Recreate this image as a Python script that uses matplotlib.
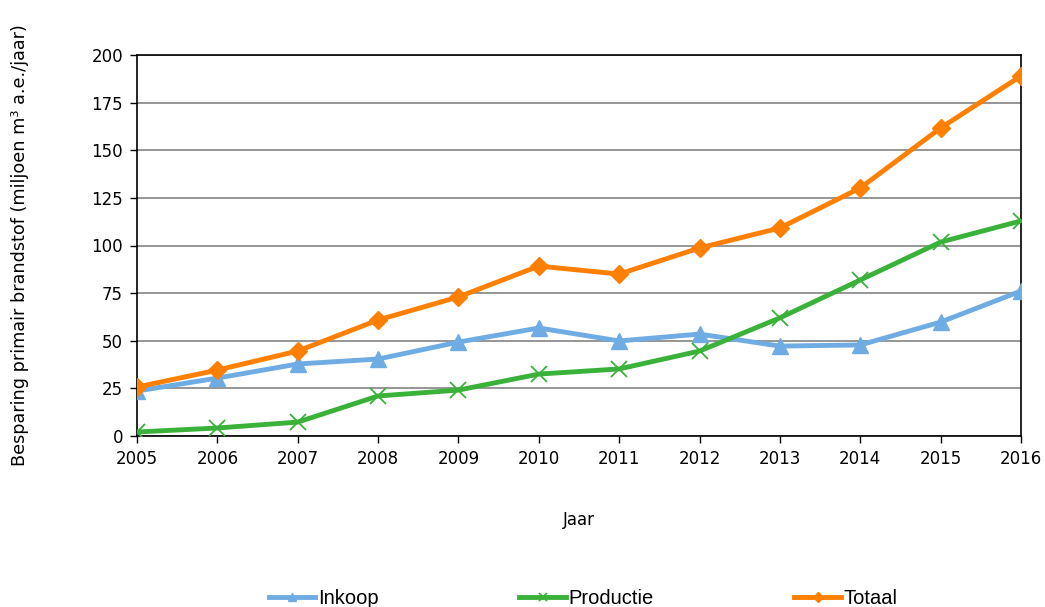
import numpy as np
import matplotlib.pyplot as plt

years = [2005, 2006, 2007, 2008, 2009, 2010, 2011, 2012, 2013, 2014, 2015, 2016]
inkoop = [23.6, 30.4, 37.8, 40.4, 49.3, 56.7, 49.9, 53.5, 47.2, 47.8, 59.8, 76.1]
productie = [2.1, 4.2, 7.3, 21.0, 24.1, 32.5, 35.2, 44.6, 62.0, 81.9, 101.8, 112.9]
totaal = [25.7, 34.6, 44.6, 60.9, 73.0, 89.2, 85.0, 98.7, 109.2, 130.2, 161.7, 189.0]
yticks = [0, 25, 50, 75, 100, 125, 150, 175, 200]

plt.rcParams['font.family'] = ['DejaVu Sans']

fig = plt.figure(figsize=(10.45, 6.07), dpi=100)
ax = fig.add_axes([137 / 1045, 171 / 607, 884 / 1045, 381 / 607])

ax.plot(years, inkoop, color='#6FACE3', lw=3.5, marker='^', ms=12,
        label='Inkoop', zorder=3)
ax.plot(years, productie, color='#3AB23A', lw=3.5, marker='x', ms=12,
        mew=1.3, label='Productie', zorder=3)
ax.plot(years, totaal, color='#FF7F00', lw=3.5, marker='D', ms=9.5,
        label='Totaal', zorder=4)

ax.set_xlim(2005, 2016)
ax.set_ylim(0, 200)
ax.set_xticks(years)
ax.set_yticks(yticks)
ax.tick_params(labelsize=12, length=5, width=1, direction='out', pad=5)
ax.yaxis.grid(True, color='#969696', lw=1.4)
ax.set_axisbelow(True)
for s in ax.spines.values():
    s.set_linewidth(1.2)
    s.set_color('black')

ax.set_xlabel('Jaar', fontsize=12, labelpad=31)
ax.set_ylabel('Besparing primair brandstof (miljoen m³ a.e./jaar)',
              fontsize=12.7, labelpad=45)

fig.legend(loc='center', bbox_to_anchor=(0.558, 0.014), ncol=3, frameon=False,
           handlelength=2.3, handletextpad=0.12, columnspacing=7.0,
           prop={'family': 'Liberation Sans', 'size': 14.5}, markerscale=0.5)

fig.savefig('out.png', dpi=100)
